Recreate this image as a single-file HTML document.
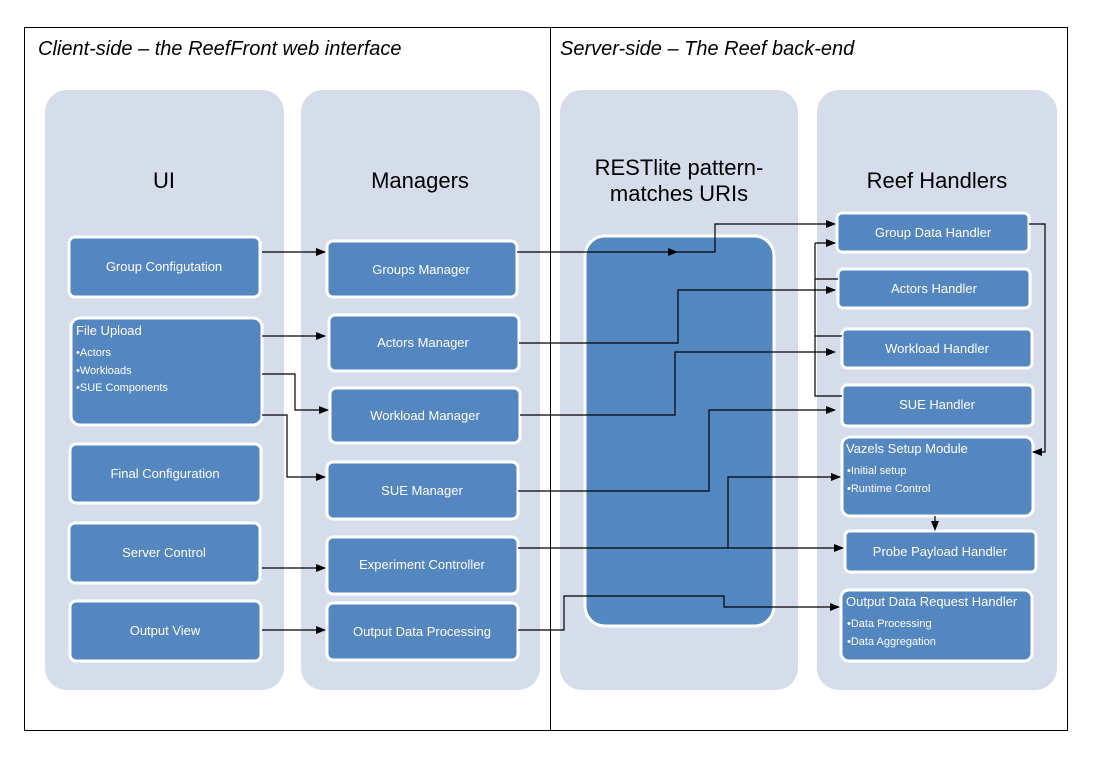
<!DOCTYPE html>
<html><head><meta charset="utf-8"><style>
html,body{margin:0;padding:0;background:#fff;}
svg{display:block;font-family:"Liberation Sans",sans-serif;}
</style></head><body>
<svg width="1102" height="765" viewBox="0 0 1102 765" xmlns="http://www.w3.org/2000/svg">
<defs>
<marker id="a" markerWidth="10" markerHeight="8" refX="9" refY="4" orient="auto" markerUnits="userSpaceOnUse">
<path d="M0,0 L10,4 L0,8 z" fill="#000"/></marker>
</defs>
<rect x="0" y="0" width="1102" height="765" fill="#fff"/>
<rect x="24.5" y="27.5" width="1043" height="703" fill="none" stroke="#000" stroke-width="1"/>
<line x1="550.5" y1="27" x2="550.5" y2="730" stroke="#000"/>
<text x="38" y="55" font-size="20" font-style="italic" fill="#000">Client-side – the ReefFront web interface</text>
<text x="560" y="55" font-size="20" font-style="italic" fill="#000">Server-side – The Reef back-end</text>

<g fill="#d5dcea">
<rect x="45" y="90" width="239" height="600" rx="22"/>
<rect x="301" y="90" width="239" height="600" rx="22"/>
<rect x="560" y="90" width="238" height="600" rx="22"/>
<rect x="817" y="90" width="240" height="600" rx="22"/>
</g>
<g font-size="22" fill="#000" text-anchor="middle">
<text x="164" y="188">UI</text>
<text x="420" y="188">Managers</text>
<text x="679" y="175">RESTlite pattern-</text>
<text x="679" y="201">matches URIs</text>
<text x="937" y="188">Reef Handlers</text>
</g>
<rect x="585" y="236" width="189" height="390" rx="20" fill="#5488c0" stroke="#fff" stroke-width="3"/>

<g fill="#5486bf" stroke="#fff" stroke-width="3">
<rect x="69" y="237" width="191" height="60" rx="6"/>
<rect x="71" y="318" width="191" height="107" rx="9"/>
<rect x="70" y="444" width="191" height="59" rx="6"/>
<rect x="69" y="523" width="191" height="60" rx="6"/>
<rect x="70" y="601" width="191" height="60" rx="6"/>
<rect x="327" y="241" width="190" height="56" rx="6"/>
<rect x="329" y="315" width="190" height="56" rx="6"/>
<rect x="330" y="388" width="190" height="55" rx="6"/>
<rect x="327" y="462" width="191" height="57" rx="6"/>
<rect x="327" y="537" width="191" height="57" rx="6"/>
<rect x="327" y="603" width="191" height="57" rx="6"/>
<rect x="837" y="213" width="192" height="39" rx="5"/>
<rect x="838" y="269" width="192" height="39" rx="5"/>
<rect x="842" y="329" width="190" height="39" rx="5"/>
<rect x="842" y="385" width="191" height="41" rx="5"/>
<rect x="842" y="437" width="191" height="79" rx="8"/>
<rect x="845" y="531" width="191" height="41" rx="5"/>
<rect x="841" y="590" width="191" height="71" rx="8"/>
</g>

<g fill="#fff" font-size="13" text-anchor="middle">
<text x="164" y="271">Group Configutation</text>
<text x="165" y="478">Final Configuration</text>
<text x="164" y="557">Server Control</text>
<text x="165" y="635">Output View</text>
<text x="421" y="274">Groups Manager</text>
<text x="423" y="347">Actors Manager</text>
<text x="425" y="420">Workload Manager</text>
<text x="422" y="495">SUE Manager</text>
<text x="422" y="569">Experiment Controller</text>
<text x="422" y="636">Output Data Processing</text>
<text x="933" y="237">Group Data Handler</text>
<text x="934" y="293">Actors Handler</text>
<text x="937" y="353">Workload Handler</text>
<text x="937" y="409">SUE Handler</text>
<text x="940" y="556">Probe Payload Handler</text>
</g>
<g fill="#fff" text-anchor="start">
<text x="76" y="335" font-size="13">File Upload</text>
<text x="76" y="356" font-size="11">•Actors</text>
<text x="76" y="374" font-size="11">•Workloads</text>
<text x="76" y="391" font-size="11">•SUE Components</text>
<text x="846" y="453" font-size="13">Vazels Setup Module</text>
<text x="847" y="474" font-size="11">•Initial setup</text>
<text x="847" y="492" font-size="11">•Runtime Control</text>
<text x="846" y="606" font-size="13">Output Data Request Handler</text>
<text x="847" y="627" font-size="11">•Data Processing</text>
<text x="847" y="645" font-size="11">•Data Aggregation</text>
</g>

<g fill="none" stroke="#000" stroke-width="1.2">
<path d="M262,252 H325" marker-end="url(#a)"/>
<path d="M262,336 H325" marker-end="url(#a)"/>
<path d="M262,374 H295 V410 H328" marker-end="url(#a)"/>
<path d="M262,415 H287 V477 H325" marker-end="url(#a)"/>
<path d="M262,568 H325" marker-end="url(#a)"/>
<path d="M262,630 H325" marker-end="url(#a)"/>
<path d="M517,252 H677" marker-end="url(#a)"/>
<path d="M677,252 H715 V224 H835" marker-end="url(#a)"/>
<path d="M519,343 H678 V290 H835" marker-end="url(#a)"/>
<path d="M520,415 H675 V352 H835" marker-end="url(#a)"/>
<path d="M518,491 H709 V410 H835" marker-end="url(#a)"/>
<path d="M518,548 H843" marker-end="url(#a)"/>
<path d="M728,548 V477 H840" marker-end="url(#a)"/>
<path d="M518,630 H564 V596 H724 V607 H839" marker-end="url(#a)"/>
<path d="M815,243 H835" marker-end="url(#a)"/>
<path d="M815,243 V396 H842 M815,279 H838 M815,336 H842"/>
<path d="M1029,224 H1045 V452 H1033" marker-end="url(#a)"/>
<path d="M935,516 V530" marker-end="url(#a)"/>
</g>
</svg>
</body></html>
